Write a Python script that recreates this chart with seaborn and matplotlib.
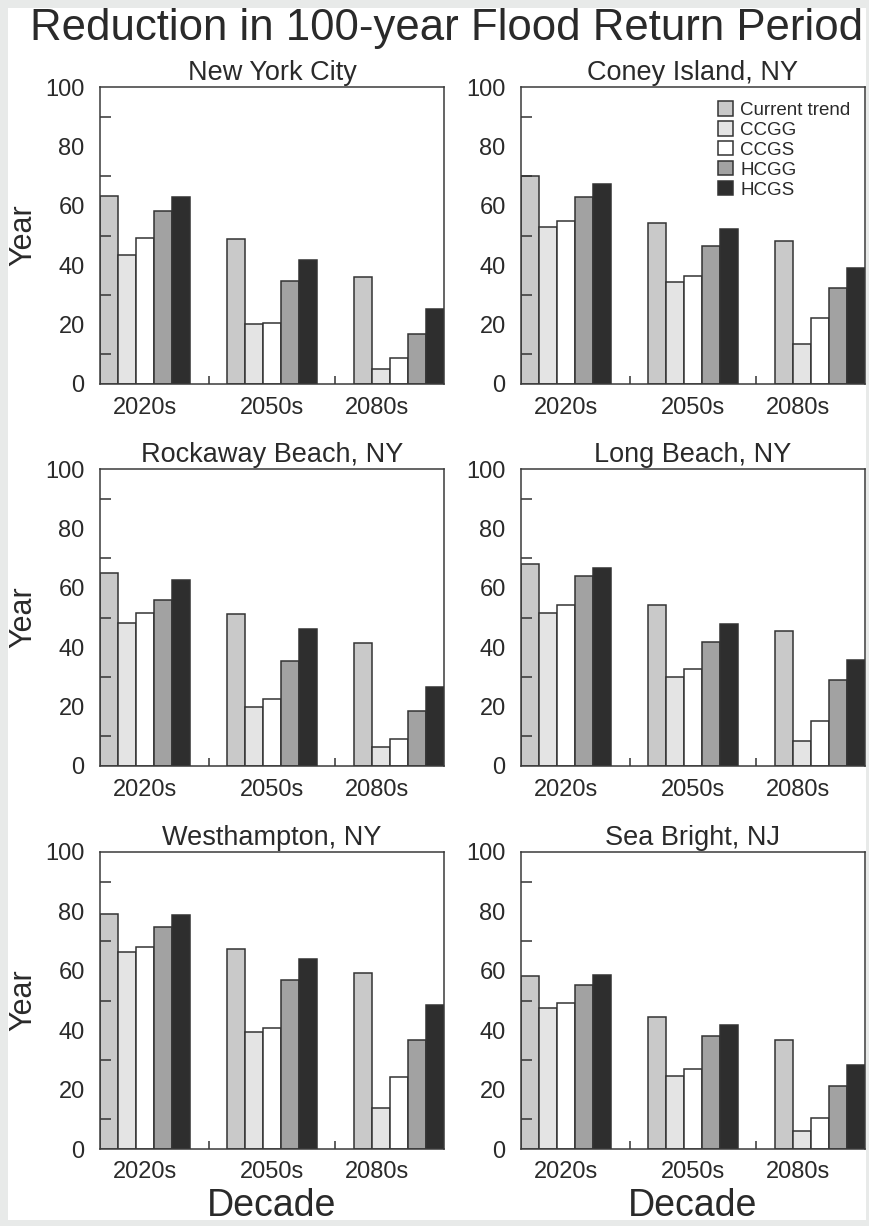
import numpy as np
import pandas as pd
import seaborn as sns
from matplotlib import pyplot as plt
from matplotlib.patches import Rectangle

decades = ['2020s', '2050s', '2080s']
scenarios = ['Current trend', 'CCGG', 'CCGS', 'HCGG', 'HCGS']
bar_colors = ['#c9c9c9', '#e4e4e4', '#ffffff', '#a2a2a2', '#2e2e2e']

sites = ['New York City', 'Coney Island, NY', 'Rockaway Beach, NY',
         'Long Beach, NY', 'Westhampton, NY', 'Sea Bright, NJ']

# return period (year) per decade, columns = scenarios
nyc = [[63.3, 43.4, 49.0, 58.3, 62.8],
       [48.7, 20.2, 20.7, 34.6, 41.6],
       [36.1, 5.1, 8.7, 16.7, 25.1]]
coney = [[70.0, 53.0, 54.9, 63.1, 67.4],
         [54.1, 34.5, 36.2, 46.4, 52.3],
         [48.2, 13.6, 22.3, 32.3, 38.9]]
rockaway = [[65.1, 48.0, 51.5, 55.9, 62.6],
            [51.2, 19.9, 22.4, 35.2, 46.0],
            [41.5, 6.4, 9.0, 18.4, 26.5]]
long_beach = [[67.9, 51.6, 54.3, 64.1, 66.8],
              [54.3, 30.0, 32.7, 41.9, 47.7],
              [45.5, 8.5, 15.3, 29.1, 35.8]]
westhampton = [[79.0, 66.2, 68.1, 74.7, 78.7],
               [67.5, 39.3, 40.9, 57.0, 64.0],
               [59.1, 13.9, 24.1, 36.6, 48.4]]
sea_bright = [[58.2, 47.5, 49.2, 55.3, 58.6],
              [44.4, 24.7, 26.9, 38.2, 41.8],
              [36.7, 5.9, 10.3, 21.2, 28.4]]

site_values = [nyc, coney, rockaway, long_beach, westhampton, sea_bright]


def to_long(values):
    rows = []
    for i, dec in enumerate(decades):
        for j, sc in enumerate(scenarios):
            rows.append({'decade': dec, 'scenario': sc, 'year': values[i][j]})
    return pd.DataFrame(rows)


sns.set_style('white')
plt.rcParams['font.family'] = ['Liberation Sans', 'DejaVu Sans']
txt_color = '#2a2a2a'
edge = '#333333'

W, H = 870, 1226
fig = plt.figure(figsize=(8.7, 12.26), dpi=100)
fig.patch.set_facecolor('#e8eae9')
fig.patches.append(Rectangle((8 / W, 1 - 1220 / H), (866 - 8) / W, (1220 - 8) / H,
                             transform=fig.transFigure, facecolor='white',
                             edgecolor='none', zorder=-10))

col_left = [100, 521]
row_top = [87, 469, 852]
ax_w, ax_h = 344, 297

axes = []
for k, site in enumerate(sites):
    r, c = divmod(k, 2)
    ax = fig.add_axes([col_left[c] / W, 1 - (row_top[r] + ax_h) / H, ax_w / W, ax_h / H])
    df = to_long(site_values[k])
    show_leg = (k == 1)
    sns.barplot(data=df, x='decade', y='year', hue='scenario', order=decades,
                hue_order=scenarios, palette=bar_colors, saturation=1,
                width=0.71, gap=0, edgecolor=edge, linewidth=1.1,
                legend=show_leg, ax=ax)
    ax.set_axisbelow(False)
    ax.set_xlim(-0.355, 2.355)
    ax.set_ylim(0, 100)
    ax.set_xticks([0, 1, 1.83], decades)
    ax.set_xticks([0.5, 1.5], minor=True)
    ax.set_yticks(range(0, 101, 20))
    ax.set_yticks([10, 30, 50, 70, 90], minor=True)
    ax.tick_params(axis='both', which='major', length=0, labelsize=17, colors=txt_color)
    ax.tick_params(axis='y', which='major', pad=11)
    ax.tick_params(axis='x', which='major', pad=9)
    ax.tick_params(axis='y', which='minor', direction='in', length=8, width=1.1, color=edge, left=True)
    ax.tick_params(axis='x', which='minor', direction='in', length=5.5, width=1.1, color=edge, bottom=True)
    ax.set_xlabel('')
    ax.set_ylabel('')
    ax.set_title(site, fontsize=19.5, color=txt_color, pad=5)
    for sp in ax.spines.values():
        sp.set_linewidth(1.1)
        sp.set_color('#3a3a3a')
        sp.set_zorder(5)
    if show_leg:
        sns.move_legend(ax, 'upper right', bbox_to_anchor=(0.99, 0.99), frameon=False,
                        title=None, fontsize=13.5, handlelength=0.8, handleheight=0.8,
                        handletextpad=0.35, labelspacing=0.12, borderaxespad=0.2)
        for t in ax.get_legend().get_texts():
            t.set_color(txt_color)
    axes.append(ax)

fig.text(447 / W, 1 - 40 / H, 'Reduction in 100-year Flood Return Period',
         ha='center', va='baseline', fontsize=31.5, color=txt_color)
for r in range(3):
    yc = 1 - (row_top[r] + ax_h / 2) / H
    fig.text(23 / W, yc, 'Year', rotation=90, ha='center', va='center',
             fontsize=22, color=txt_color)
for c in range(2):
    fig.text((col_left[c] + ax_w / 2) / W, 1 - 1216 / H, 'Decade', ha='center',
             va='baseline', fontsize=27, color=txt_color)

fig.savefig('out.png', dpi=100, facecolor=fig.get_facecolor())
